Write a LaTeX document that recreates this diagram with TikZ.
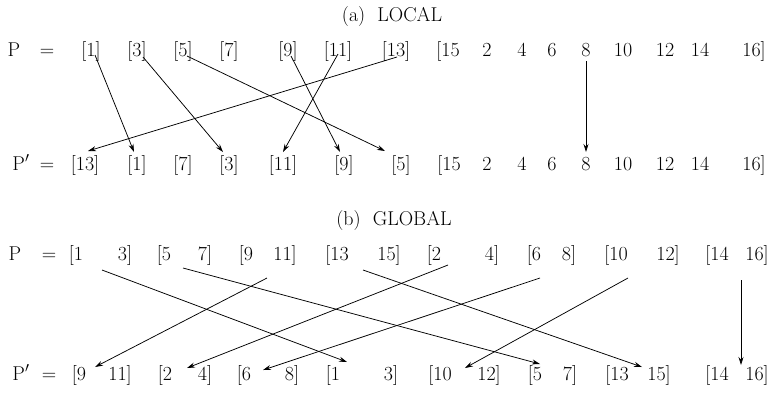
\documentclass[tikz,border=0pt]{standalone}
\usetikzlibrary{arrows.meta,calc}
\begin{document}
\begin{tikzpicture}[x=1pt,y=-1pt,
  tok/.style={anchor=base,inner sep=0pt,font=\fontsize{20}{24}\selectfont},
  arr/.style={line width=0.75pt,-{Stealth[length=8pt,width=5pt]}}]
\useasboundingbox (0,0) rectangle (781,392);
% ---------- (a) LOCAL ----------
\node[tok] (ta) at (392,21) {(a)\ \ LOCAL};
\foreach \n/\x/\t in {tP/14/P, teq/47/=, t1/91/[1], t3/137/[3], t5/183/[5], t7/229/[7],
  t9/288/[9], t11/338/[11], t13/396/[13], t15/448/[15, t2/487/2, t4/522/4, t6/552/6,
  t8/586/8, t10/623/10, t12/665/12, t14/700/14, t16/754/16]}
  \node[tok] (\n) at (\x,56) {\t};
\foreach \n/\x/\t in {uP/21/P$'$, ueq/47/=, u13/85/[13], u1/137/[1], u7/183/[7], u3/229/[3],
  u11/283/[11], u9/344/[9], u5/401/[5], u15/449/[15, u2/487/2, u4/522/4, u6/552/6,
  u8/586/8, u10/623/10, u12/665/12, u14/700/14, u16/754/16]}
  \node[tok] (\n) at (\x,170) {\t};
\draw[arr] ($(t1.base)+(4,-1)$) -- ($(u1.base)+(-3,-18)$);
\draw[arr] ($(t3.base)+(6,1)$) -- ($(u3.base)+(-6,-18)$);
\draw[arr] ($(t5.base)+(4,0)$) -- ($(u5.base)+(-16,-19)$);
\draw[arr] ($(t9.base)+(3,0)$) -- ($(u9.base)+(-4,-18)$);
\draw[arr] ($(t11.base)+(0,-2)$) -- ($(u11.base)+(0,-18)$);
\draw[arr] ($(t13.base)+(1,1)$) -- ($(u13.base)+(3,-19)$);
\draw[arr] ($(t8.base)+(0,5)$) -- ($(u8.base)+(0,-18)$);
% ---------- (b) GLOBAL ----------
\node[tok] (tb) at (394,225) {(b)\ \ GLOBAL};
\foreach \n/\x/\t in {vP/15/P, veq/49/=, v1/76/[1, v3/125/3], v5/164/[5, v7/205/7],
  v9/246/[9, v11/285/11], v13/337/[13, v15/389/15], v2/434/[2, v4/492/4],
  v6/534/[6, v8/569/8], v10/616/[10, v12/668/12], v14/717/[14, v16/757/16]}
  \node[tok] (\n) at (\x,260) {\t};
\foreach \n/\x/\t in {wP/21/P$'$, weq/49/=, w9/79/[9, w11/120/11], w2/165/[2, w4/205/4],
  w6/244/[6, w8/292/8], w1/333/[1, w3/391/3], w10/440/[10, w12/489/12],
  w5/535/[5, w7/570/7], w13/617/[13, w15/659/15], w14/717/[14, w16/757/16]}
  \node[tok] (\n) at (\x,380) {\t};
\draw[arr] ($(v1.base)+(26,10)$) -- ($(w1.base)+(14,-18)$);
\draw[arr] ($(v5.base)+(19,8)$) -- ($(w5.base)+(5,-16)$);
\draw[arr] ($(v9.base)+(21,18)$) -- ($(w9.base)+(16,-13)$);
\draw[arr] ($(v13.base)+(26,10)$) -- ($(w13.base)+(25,-13)$);
\draw[arr] ($(v2.base)+(14,5)$) -- ($(w2.base)+(22,-12)$);
\draw[arr] ($(v6.base)+(6,18)$) -- ($(w6.base)+(19,-10)$);
\draw[arr] ($(v10.base)+(12,18)$) -- ($(w10.base)+(25,-12)$);
\draw[arr] ($(v14.base)+(24,20)$) -- ($(w14.base)+(24,-15)$);
\end{tikzpicture}
\end{document}
